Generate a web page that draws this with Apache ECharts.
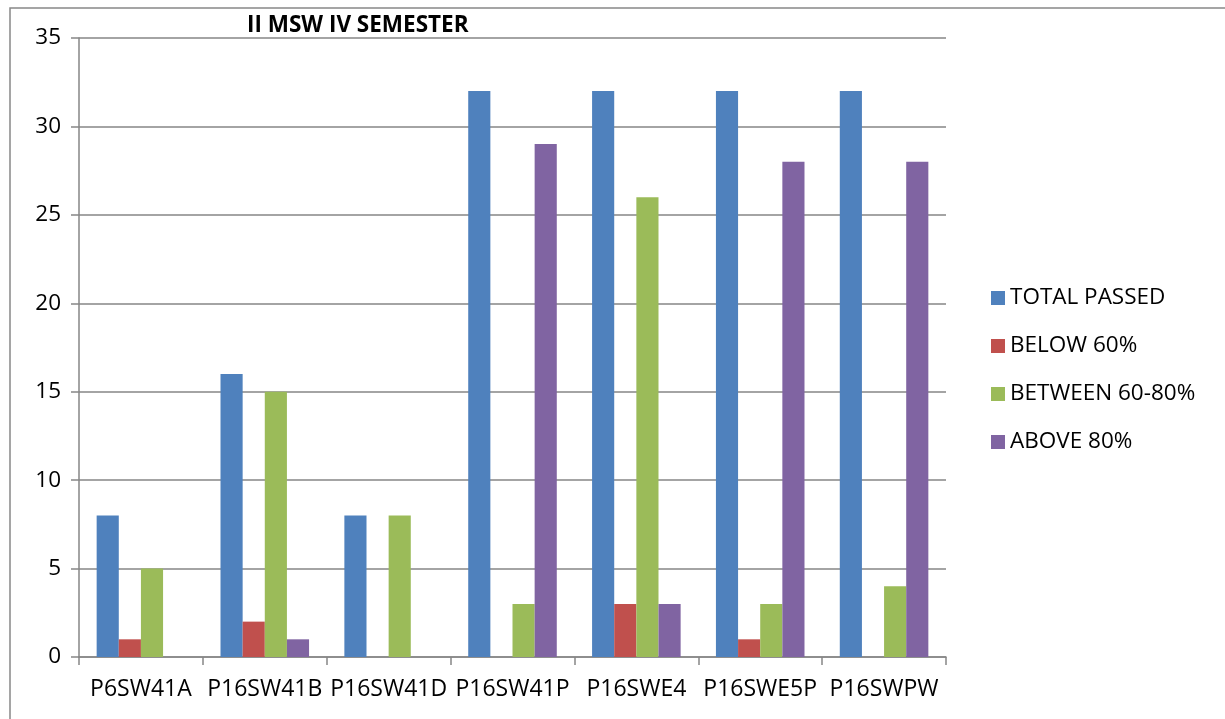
<!DOCTYPE html>
<html>
<head>
<meta charset="utf-8">
<script src="https://cdn.jsdelivr.net/npm/echarts@6/dist/echarts.min.js"></script>
<style>html,body{margin:0;padding:0;background:#fff}#c{width:1225px;height:719px}</style>
</head>
<body>
<div id="c"></div>
<script>
const categories = ['P6SW41A','P16SW41B','P16SW41D','P16SW41P','P16SWE4','P16SWE5P','P16SWPW'];
const totalPassed = [8,16,8,32,32,32,32];
const below60 = [1,2,0,0,3,1,0];
const between6080 = [5,15,8,3,26,3,4];
const above80 = [0,1,0,29,3,28,28];
const seriesNames = ['TOTAL PASSED','BELOW 60%','BETWEEN 60-80%','ABOVE 80%'];
const colors = ['#4F81BD','#C0504D','#9BBB59','#8064A2'];
const titleText = 'II MSW IV SEMESTER';

const font = '"Open Sans", sans-serif';
const chart = echarts.init(document.getElementById('c'));
const mk = (name, data, i) => ({
  name, type:'bar', data, barGap:'0%', barCategoryGap:'28.5%',
  itemStyle:{color:colors[i]}, emphasis:{disabled:true}, animation:false
});
chart.setOption({
  animation:false,
  graphic:[{type:'rect', shape:{x:10,y:8,width:1400,height:900}, style:{fill:'none',stroke:'#888',lineWidth:1.5}, silent:true}],
  title:{text:titleText, left:247, top:14, padding:0, textStyle:{fontFamily:font, fontWeight:'bold', fontSize:22.5, color:'#000'}},
  grid:{left:79, right:279, top:38, bottom:62, containLabel:false},
  legend:{orient:'vertical', left:986, top:281, itemWidth:14, itemHeight:14, itemGap:24, icon:'rect',
    textStyle:{fontFamily:font, fontSize:22.5, color:'#000', lineHeight:24}, data:seriesNames},
  xAxis:{type:'category', data:categories,
    axisLine:{lineStyle:{color:'#868686', width:1.5}},
    axisTick:{show:true, length:8, alignWithLabel:false, lineStyle:{color:'#868686', width:1.5}},
    axisLabel:{fontFamily:font, fontSize:23, color:'#000', margin:21, interval:0}},
  yAxis:{type:'value', min:0, max:35, interval:5,
    axisLine:{show:true, lineStyle:{color:'#868686', width:1.5}},
    axisTick:{show:true, length:8, lineStyle:{color:'#868686', width:1.5}},
    splitLine:{lineStyle:{color:'#868686', width:1.5}},
    axisLabel:{fontFamily:font, fontSize:22.5, color:'#000', margin:18}},
  series:[mk(seriesNames[0], totalPassed,0), mk(seriesNames[1], below60,1), mk(seriesNames[2], between6080,2), mk(seriesNames[3], above80,3)]
});
</script>
</body>
</html>
